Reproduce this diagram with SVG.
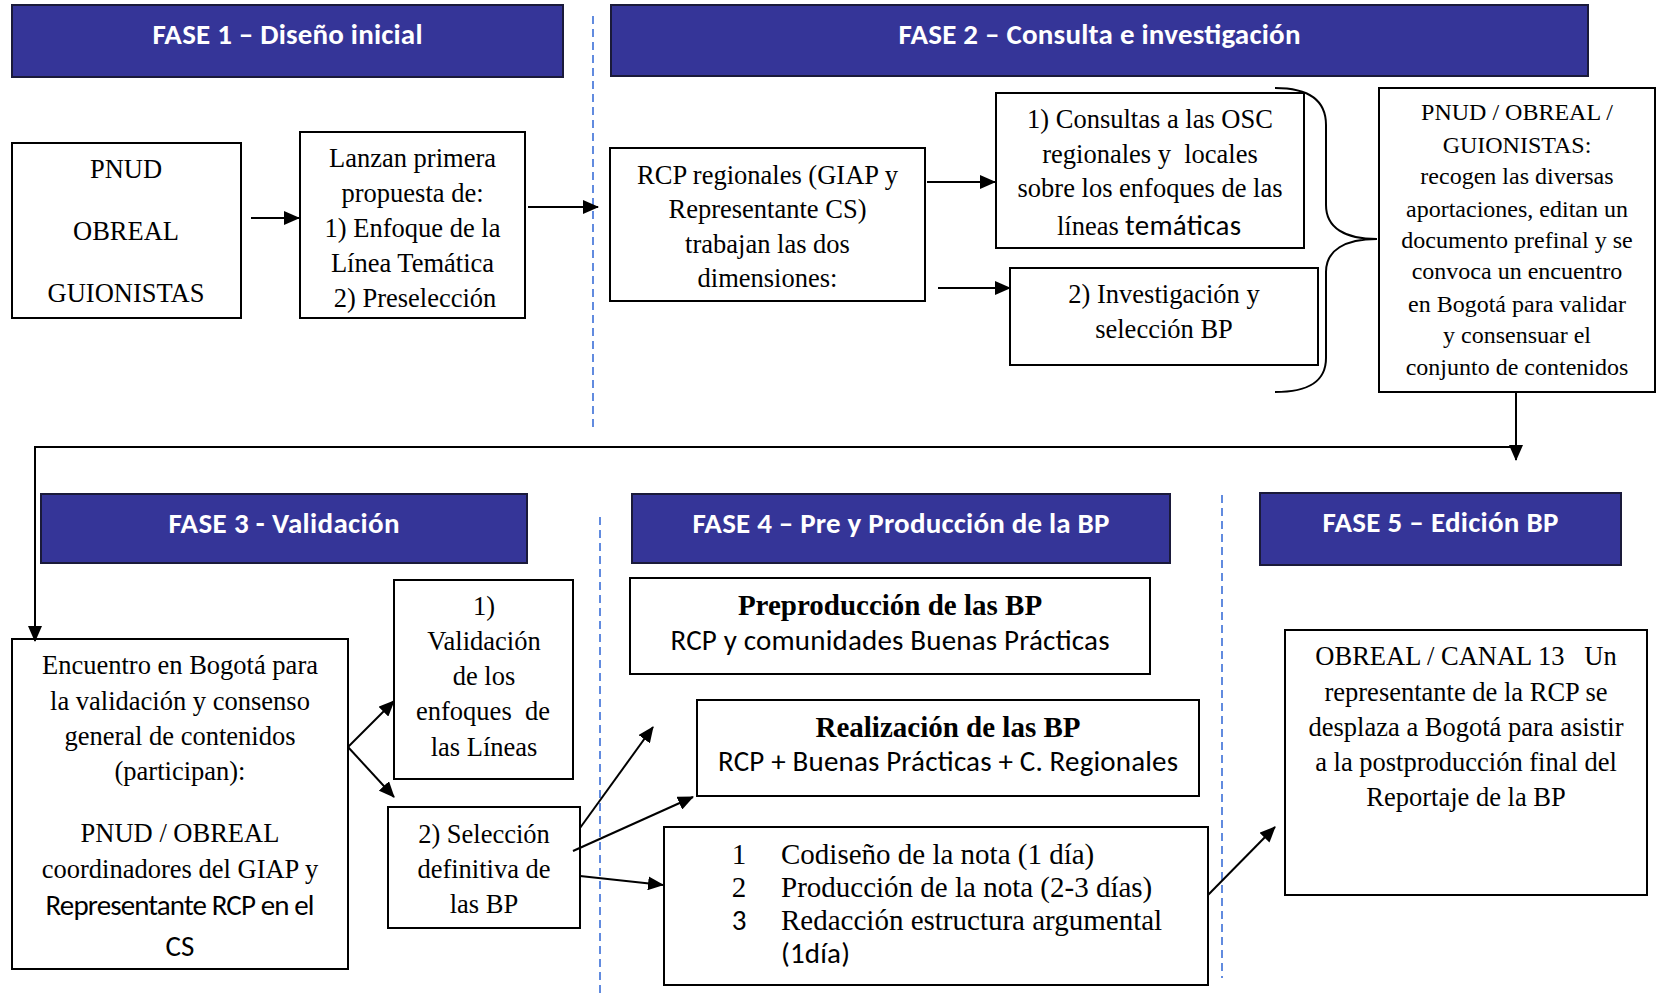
<svg xmlns="http://www.w3.org/2000/svg" width="1660" height="997" viewBox="0 0 1660 997">
<style>
.hdr{fill:#353598;stroke:#1a1a3a;stroke-width:2}
.box{fill:#fff;stroke:#000;stroke-width:2}
.ht{font-family:Carlito,Calibri,Lato,"Open Sans",sans-serif;font-weight:bold;font-size:29px;fill:#fff;text-anchor:middle}
.t{font-family:"Liberation Serif","Times New Roman",serif;font-size:26.5px;fill:#000;text-anchor:middle}
.t24{font-family:"Liberation Serif","Times New Roman",serif;font-size:24px;fill:#000;text-anchor:middle}
.t29{font-family:"Liberation Serif","Times New Roman",serif;font-size:29px;fill:#000}
.b29{font-family:"Liberation Serif","Times New Roman",serif;font-size:29px;font-weight:bold;fill:#000;text-anchor:middle}
.s{font-family:Carlito,Calibri,Lato,"Open Sans",sans-serif;font-size:29px;fill:#000}
.c{text-anchor:middle}
.ln{fill:none;stroke:#000;stroke-width:2}
.dash{fill:none;stroke:#3b6fd8;stroke-width:1.6;stroke-dasharray:8 5}
</style>
<defs>
<marker id="ah" markerUnits="userSpaceOnUse" markerWidth="16" markerHeight="14" refX="15" refY="7" orient="auto">
<path d="M0,0 L16,7 L0,14 z" fill="#000"/>
</marker>
</defs>
<rect width="1660" height="997" fill="#fff"/>

<g id="separators">
<line class="dash" x1="593" y1="16" x2="593" y2="429"/>
<line class="dash" x1="600" y1="517" x2="600" y2="997"/>
<line class="dash" x1="1222" y1="495" x2="1222" y2="978"/>
</g>

<g id="fase1">
<rect class="hdr" x="12" y="5" width="551" height="72"/>
<text class="ht" x="287.5" y="44" textLength="270">FASE 1 – Diseño inicial</text>
</g>
<g id="fase2">
<rect class="hdr" x="611" y="5" width="977" height="71"/>
<text class="ht" x="1099.5" y="44" textLength="402">FASE 2 – Consulta e investigación</text>
</g>
<g id="fase3">
<rect class="hdr" x="41" y="494" width="486" height="69"/>
<text class="ht" x="284" y="533" textLength="231">FASE 3 - Validación</text>
</g>
<g id="fase4">
<rect class="hdr" x="632" y="494" width="538" height="69"/>
<text class="ht" x="901" y="533" textLength="417">FASE 4 – Pre y Producción de la BP</text>
</g>
<g id="fase5">
<rect class="hdr" x="1260" y="493" width="361" height="72"/>
<text class="ht" x="1440.5" y="532" textLength="236">FASE 5 – Edición BP</text>
</g>

<g id="pnud">
<rect class="box" x="12" y="143" width="229" height="175"/>
<text class="t" x="126" y="178">PNUD</text>
<text class="t" x="126" y="240">OBREAL</text>
<text class="t" x="126" y="302">GUIONISTAS</text>
</g>

<g id="lanzan">
<rect class="box" x="300" y="132" width="225" height="186"/>
<text class="t" x="412.5" y="167">Lanzan primera</text>
<text class="t" x="412.5" y="202">propuesta de:</text>
<text class="t" x="412.5" y="237">1) Enfoque de la</text>
<text class="t" x="412.5" y="272">Línea Temática</text>
<text class="t" x="415" y="307">2) Preselección</text>
</g>

<g id="rcp">
<rect class="box" x="610" y="148" width="315" height="153"/>
<text class="t" x="767.5" y="184">RCP regionales (GIAP y</text>
<text class="t" x="767.5" y="218">Representante CS)</text>
<text class="t" x="767.5" y="253">trabajan las dos</text>
<text class="t" x="767.5" y="287">dimensiones:</text>
</g>

<g id="consultas">
<rect class="box" x="996" y="93" width="308" height="155"/>
<text class="t" x="1150" y="128">1) Consultas a las OSC</text>
<text class="t" x="1150" y="163" xml:space="preserve">regionales y  locales</text>
<text class="t" x="1150" y="197">sobre los enfoques de las</text>
<text class="t" x="1057" y="235" style="text-anchor:start">líneas</text>
<text class="s" x="1125" y="235" textLength="116">temáticas</text>
</g>

<g id="investigacion">
<rect class="box" x="1010" y="268" width="308" height="97"/>
<text class="t" x="1164" y="303">2) Investigación y</text>
<text class="t" x="1164" y="338">selección BP</text>
</g>

<g id="recogen">
<rect class="box" x="1379" y="88" width="276" height="304"/>
<text class="t24" x="1517" y="120">PNUD / OBREAL /</text>
<text class="t24" x="1517" y="153">GUIONISTAS:</text>
<text class="t24" x="1517" y="184">recogen las diversas</text>
<text class="t24" x="1517" y="217">aportaciones, editan un</text>
<text class="t24" x="1517" y="248">documento prefinal y se</text>
<text class="t24" x="1517" y="279">convoca un encuentro</text>
<text class="t24" x="1517" y="312">en Bogotá para validar</text>
<text class="t24" x="1517" y="343">y consensuar el</text>
<text class="t24" x="1517" y="375">conjunto de contenidos</text>
</g>

<g id="encuentro">
<rect class="box" x="12" y="639" width="336" height="330"/>
<text class="t" x="180" y="674">Encuentro en Bogotá para</text>
<text class="t" x="180" y="710">la validación y consenso</text>
<text class="t" x="180" y="745">general de contenidos</text>
<text class="t" x="180" y="780">(participan):</text>
<text class="t" x="180" y="842">PNUD / OBREAL</text>
<text class="t" x="180" y="878">coordinadores del GIAP y</text>
<text class="s c" x="180" y="915" textLength="269">Representante RCP en el</text>
<text class="s c" x="180" y="956">CS</text>
</g>

<g id="validacion">
<rect class="box" x="394" y="580" width="179" height="199"/>
<text class="t" x="484" y="615">1)</text>
<text class="t" x="484" y="650">Validación</text>
<text class="t" x="484" y="685">de los</text>
<text class="t" x="483" y="720" xml:space="preserve">enfoques  de</text>
<text class="t" x="484" y="756">las Líneas</text>
</g>

<g id="seleccion">
<rect class="box" x="388" y="807" width="192" height="121"/>
<text class="t" x="484" y="843">2) Selección</text>
<text class="t" x="484" y="878">definitiva de</text>
<text class="t" x="484" y="913">las BP</text>
</g>

<g id="preproduccion">
<rect class="box" x="630" y="578" width="520" height="96"/>
<text class="b29" x="890" y="615">Preproducción de las BP</text>
<text class="s c" x="890" y="650" textLength="439">RCP y comunidades Buenas Prácticas</text>
</g>

<g id="realizacion">
<rect class="box" x="697" y="700" width="502" height="96"/>
<text class="b29" x="948" y="737">Realización de las BP</text>
<text class="s c" x="948" y="771" textLength="460">RCP + Buenas Prácticas + C. Regionales</text>
</g>

<g id="codiseno">
<rect class="box" x="664" y="827" width="544" height="158"/>
<text class="t29 c" x="739" y="864">1</text>
<text class="t29" x="781" y="864">Codiseño de la nota (1 día)</text>
<text class="t29 c" x="739" y="897">2</text>
<text class="t29" x="781" y="897">Producción de la nota (2-3 días)</text>
<text class="s c" x="739" y="930">3</text>
<text class="t29" x="781" y="930">Redacción estructura argumental</text>
<text class="s" x="781" y="963" textLength="69">(1día)</text>
</g>

<g id="edicion">
<rect class="box" x="1285" y="630" width="362" height="265"/>
<text class="t" x="1466" y="665" xml:space="preserve">OBREAL / CANAL 13   Un</text>
<text class="t" x="1466" y="701">representante de la RCP se</text>
<text class="t" x="1466" y="736">desplaza a Bogotá para asistir</text>
<text class="t" x="1466" y="771">a la postproducción final del</text>
<text class="t" x="1466" y="806">Reportaje de la BP</text>
</g>

<g id="connectors">
<line class="ln" x1="251" y1="218" x2="299" y2="218" marker-end="url(#ah)"/>
<line class="ln" x1="528" y1="207" x2="598" y2="207" marker-end="url(#ah)"/>
<line class="ln" x1="927" y1="182" x2="995" y2="182" marker-end="url(#ah)"/>
<line class="ln" x1="938" y1="288" x2="1010" y2="288" marker-end="url(#ah)"/>
<path class="ln" d="M1275,88 C1308,88 1326,100 1326,125 L1326,205 C1326,228 1345,239 1377,239 C1345,239 1326,250 1326,272 L1326,358 C1326,382 1308,392 1275,392"/>
<line class="ln" x1="1516" y1="392" x2="1516" y2="460" marker-end="url(#ah)"/>
<polyline class="ln" points="1516,447 35,447 35,641" marker-end="url(#ah)"/>
<line class="ln" x1="348" y1="747" x2="394" y2="701" marker-end="url(#ah)"/>
<line class="ln" x1="348" y1="747" x2="394" y2="797" marker-end="url(#ah)"/>
<line class="ln" x1="580" y1="828" x2="653" y2="727" marker-end="url(#ah)"/>
<line class="ln" x1="573" y1="851" x2="693" y2="797" marker-end="url(#ah)"/>
<line class="ln" x1="580" y1="876" x2="663" y2="885" marker-end="url(#ah)"/>
<line class="ln" x1="1208" y1="895" x2="1275" y2="827" marker-end="url(#ah)"/>
</g>
</svg>
